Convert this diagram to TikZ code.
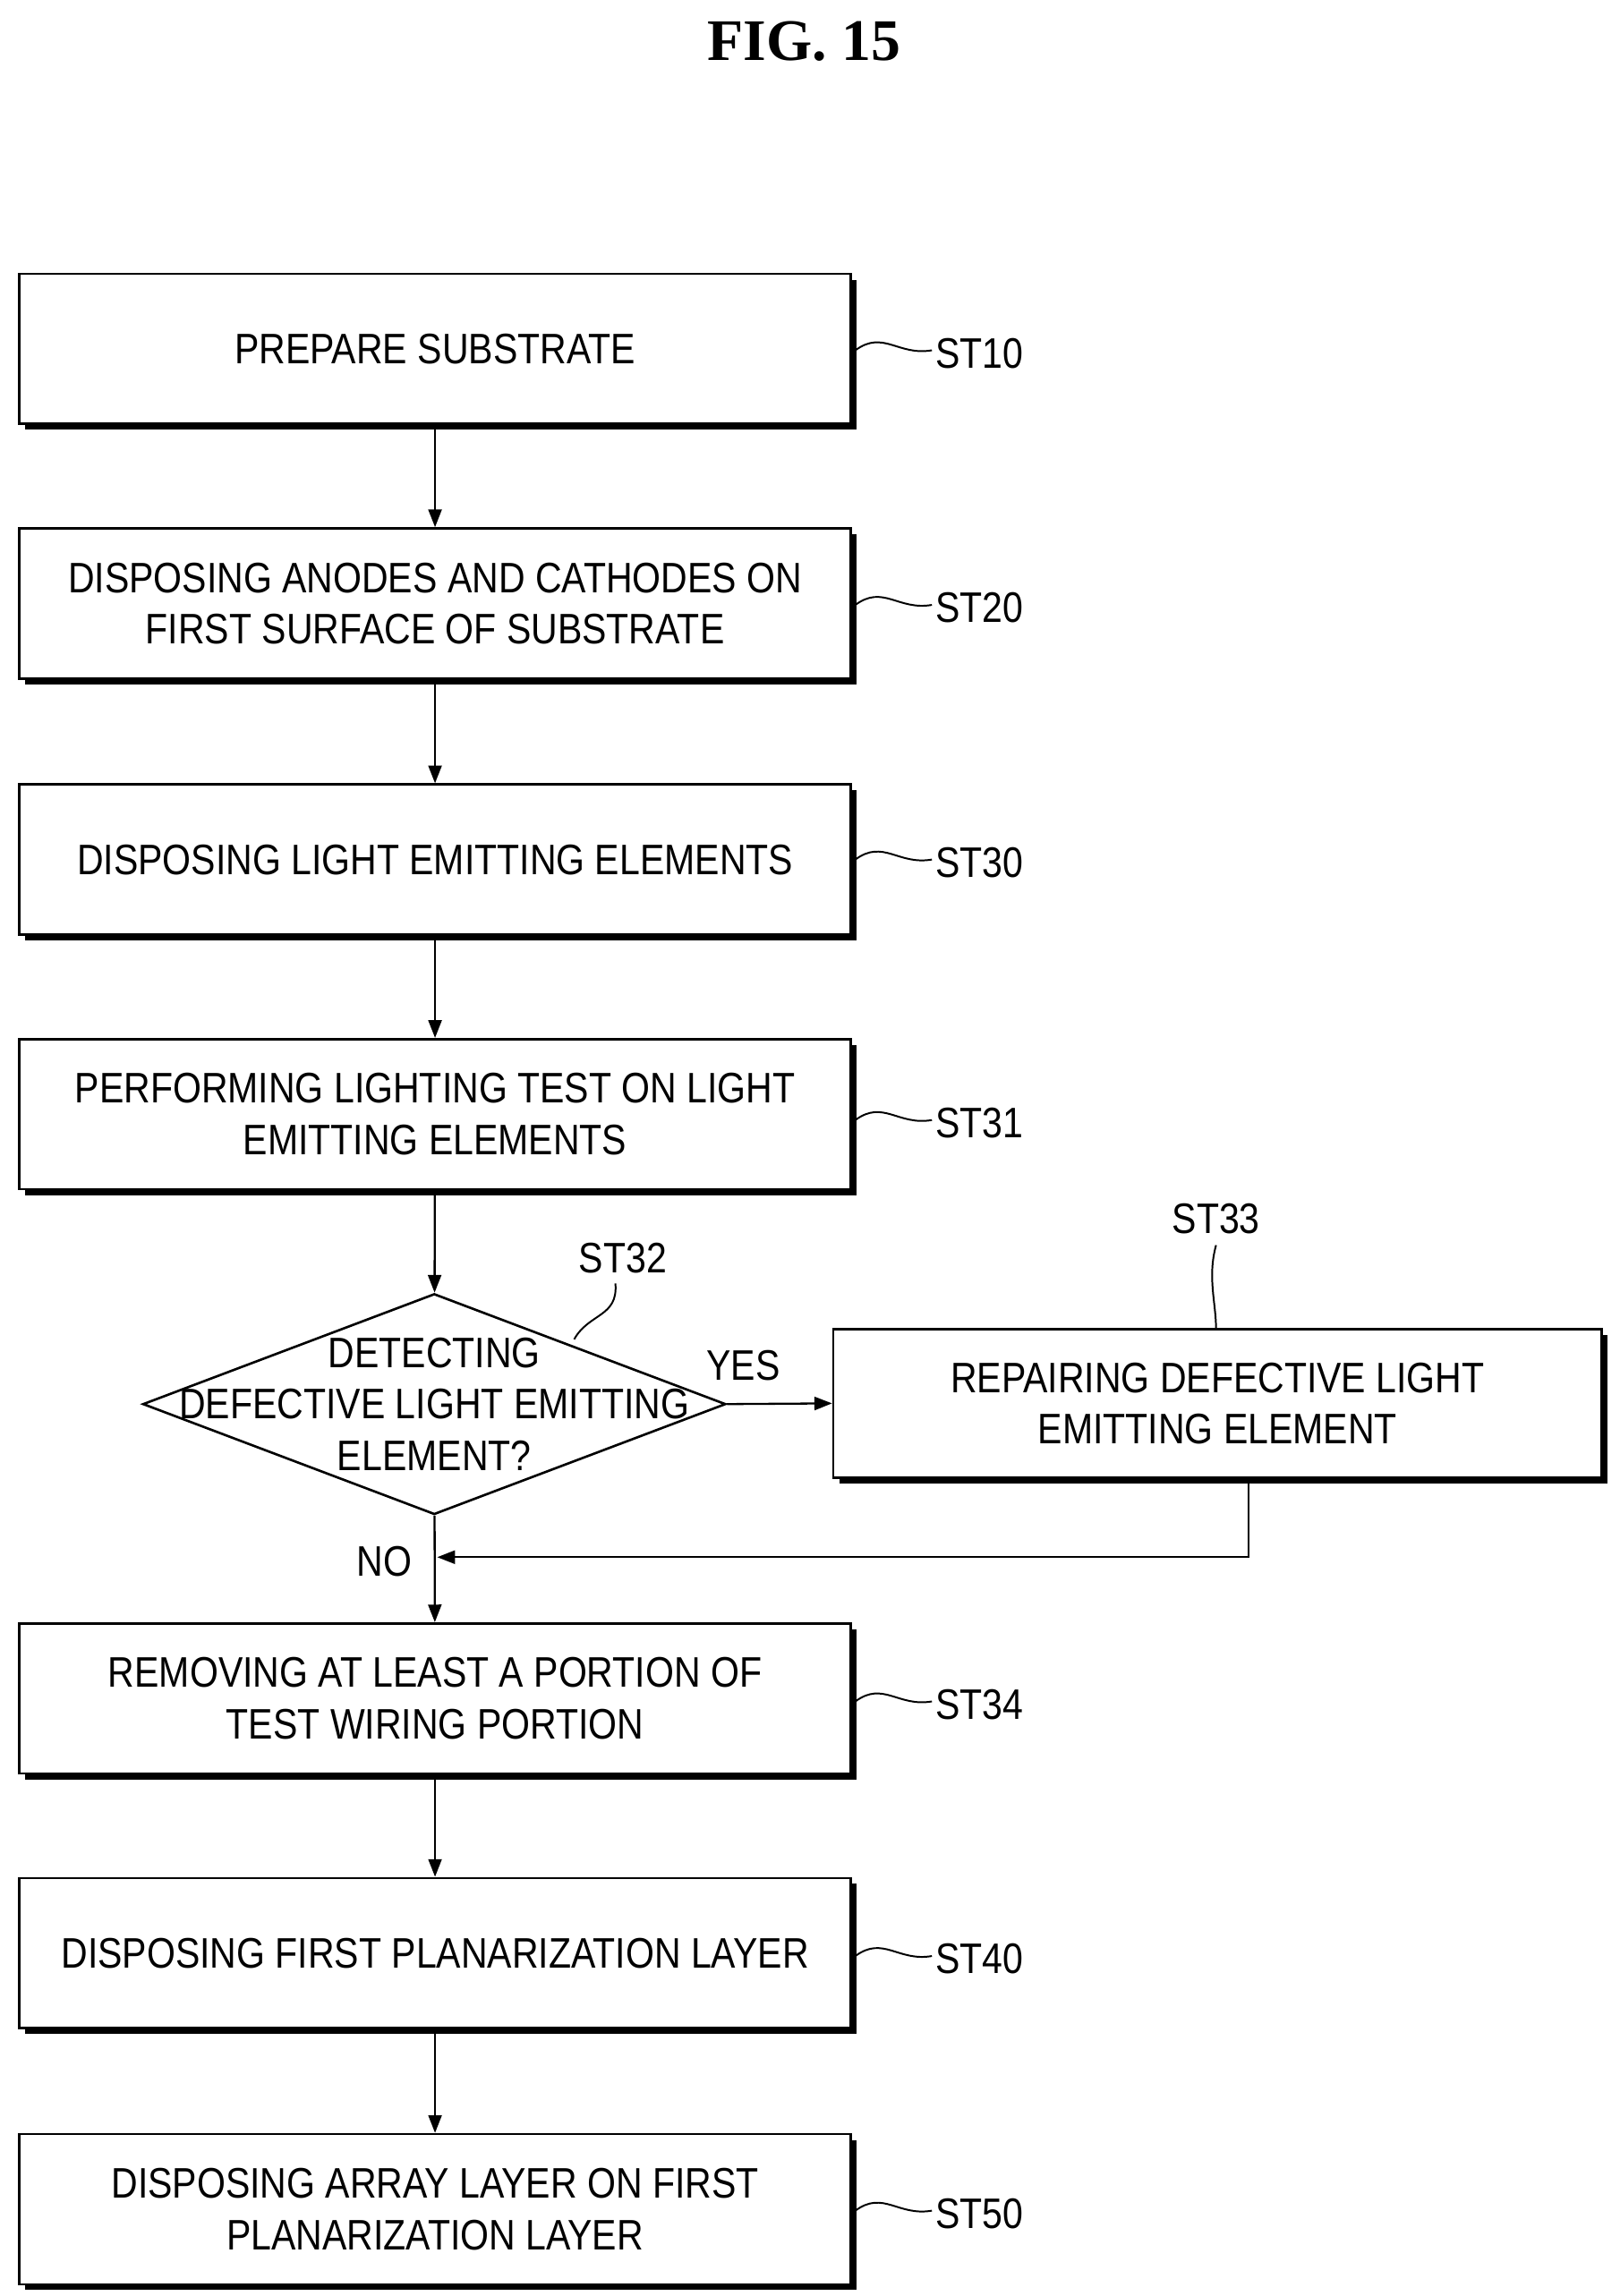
\documentclass[tikz,border=0pt]{standalone}
\usepackage{fontspec}
\setmainfont{Liberation Sans}[FakeStretch=0.86]
\newfontfamily\titlefont{Liberation Serif}
\usetikzlibrary{shapes.geometric,arrows.meta}
\begin{document}
\begin{tikzpicture}[x=1pt,y=-1pt,
  txt/.style={font=\fontsize{29}{35}\selectfont},
  box/.style={draw,line width=1.6pt,fill=white,minimum width=565pt,minimum height=102pt,align=center,txt},
  arr/.style={line width=1.4pt,-{Triangle[length=12pt,width=9pt]}},
  lbl/.style={txt,anchor=west},
  sq/.style={line width=1.2pt}]
\useasboundingbox (0,0) rectangle (1100,1560);
\node[font=\titlefont\bfseries\fontsize{40}{48}\selectfont] (title) at (546,28) {FIG. 15};
\newcommand{\stepbox}[4]{%
  \fill (#2+4,#3+4) rectangle ++(565,102);
  \node[box] (#1) at (#2+282.5,#3+51) {#4};}
\stepbox{b1}{13}{186}{PREPARE SUBSTRATE}
\stepbox{b2}{13}{359}{DISPOSING ANODES AND CATHODES ON\\FIRST SURFACE OF SUBSTRATE}
\stepbox{b3}{13}{533}{DISPOSING LIGHT EMITTING ELEMENTS}
\stepbox{b4}{13}{706}{PERFORMING LIGHTING TEST ON LIGHT\\EMITTING ELEMENTS}
\stepbox{b5}{13}{1103}{REMOVING AT LEAST A PORTION OF\\TEST WIRING PORTION}
\stepbox{b6}{13}{1276}{DISPOSING FIRST PLANARIZATION LAYER}
\stepbox{b7}{13}{1450}{DISPOSING ARRAY LAYER ON FIRST\\PLANARIZATION LAYER}
\fill (570,907) rectangle ++(522,101);
\node[box,minimum width=522pt,minimum height=101pt] (b33) at (827,953.5) {REPAIRING DEFECTIVE LIGHT\\EMITTING ELEMENT};
\node[diamond,draw,line width=1.6pt,fill=white,minimum width=396pt,minimum height=150pt,inner sep=0pt,align=center,txt] (d) at (295,954) {};
\node[txt,align=center] (dt) at (295,954) {DETECTING\\DEFECTIVE LIGHT EMITTING\\ELEMENT?};
\draw[arr] (b1) -- (b2);
\draw[arr] (b2) -- (b3);
\draw[arr] (b3) -- (b4);
\draw[arr] (b4) -- (d);
\draw[arr] (d) -- (b5);
\draw[arr] (b5) -- (b6);
\draw[arr] (b6) -- (b7);
\draw[arr] (d.east) -- (b33.west);
\coordinate (r1) at (848,1004);
\coordinate (r2) at (848,1058);
\coordinate (r3) at (297,1058);
\draw[arr] (r1) -- (r2) -- (r3);
\node[txt] (yes) at (505,928) {YES};
\node[txt] (no) at (261,1061) {NO};
\foreach \n/\y in {b1/238,b2/411,b3/584,b4/761,b5/1156,b6/1329,b7/1502}{
  \coordinate (s\n) at (581,\y);
  \draw[sq] (s\n) .. controls (600,\y-14) and (610,\y+4) .. (633,\y);
}
\node[lbl] (l10) at (632,240) {ST10};
\node[lbl] (l20) at (632,413) {ST20};
\node[lbl] (l30) at (632,586) {ST30};
\node[lbl] (l31) at (632,763) {ST31};
\node[lbl] (l34) at (632,1158) {ST34};
\node[lbl] (l40) at (632,1331) {ST40};
\node[lbl] (l50) at (632,1504) {ST50};
\node[txt] (l32) at (423,855) {ST32};
\node[txt] (l33) at (826,828) {ST33};
\coordinate (c32) at (390,910);
\draw[sq] (c32) .. controls (400,892) and (420,895) .. (418,872);
\coordinate (c33) at (826,903);
\draw[sq] (c33) .. controls (826,885) and (820,868) .. (826,846);
\end{tikzpicture}
\end{document}
